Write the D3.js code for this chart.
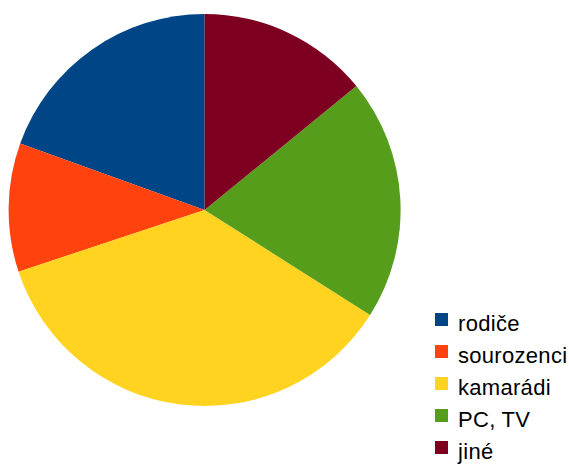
<!DOCTYPE html>
<html>
<head>
<meta charset="utf-8">
<script src="https://cdn.jsdelivr.net/npm/d3@7"></script>
<style>
  html, body { margin: 0; padding: 0; background: #ffffff; }
  svg { display: block; }
</style>
</head>
<body>
<div id="chart"></div>
<script>
// Survey shares (percent) by source
const categories = ["rodiče", "sourozenci", "kamarádi", "PC, TV", "jiné"];
const values = [19.5, 10.6, 35.9, 19.9, 14.1];
const colors = ["#004586", "#ff420e", "#ffd320", "#579d1c", "#7e0021"];

const width = 569, height = 464;
const cx = 204.6, cy = 210, radius = 196;

const svg = d3.select("#chart").append("svg")
  .attr("width", width)
  .attr("height", height);

const color = d3.scaleOrdinal().domain(categories).range(colors);

// Slices run counter-clockwise from 12 o'clock
const pie = d3.pie()
  .sort(null)
  .value(d => d.value)
  .startAngle(0)
  .endAngle(-2 * Math.PI);

const arc = d3.arc().innerRadius(0).outerRadius(radius);

const data = categories.map((c, i) => ({ name: c, value: values[i] }));

svg.append("g")
  .attr("transform", `translate(${cx},${cy})`)
  .selectAll("path")
  .data(pie(data))
  .join("path")
  .attr("d", arc)
  .attr("fill", d => color(d.data.name));

// Legend
const legend = svg.append("g").attr("transform", "translate(435,313)");
const item = legend.selectAll("g")
  .data(categories)
  .join("g")
  .attr("transform", (d, i) => `translate(0,${i * 32})`);

item.append("rect")
  .attr("width", 13)
  .attr("height", 13)
  .attr("fill", d => color(d));

item.append("text")
  .attr("x", 23)
  .attr("y", 18)
  .attr("font-family", "'Liberation Sans', Arial, sans-serif")
  .attr("font-size", 22)
  .attr("letter-spacing", 0.3)
  .attr("fill", "#000")
  .text(d => d);
</script>
</body>
</html>
